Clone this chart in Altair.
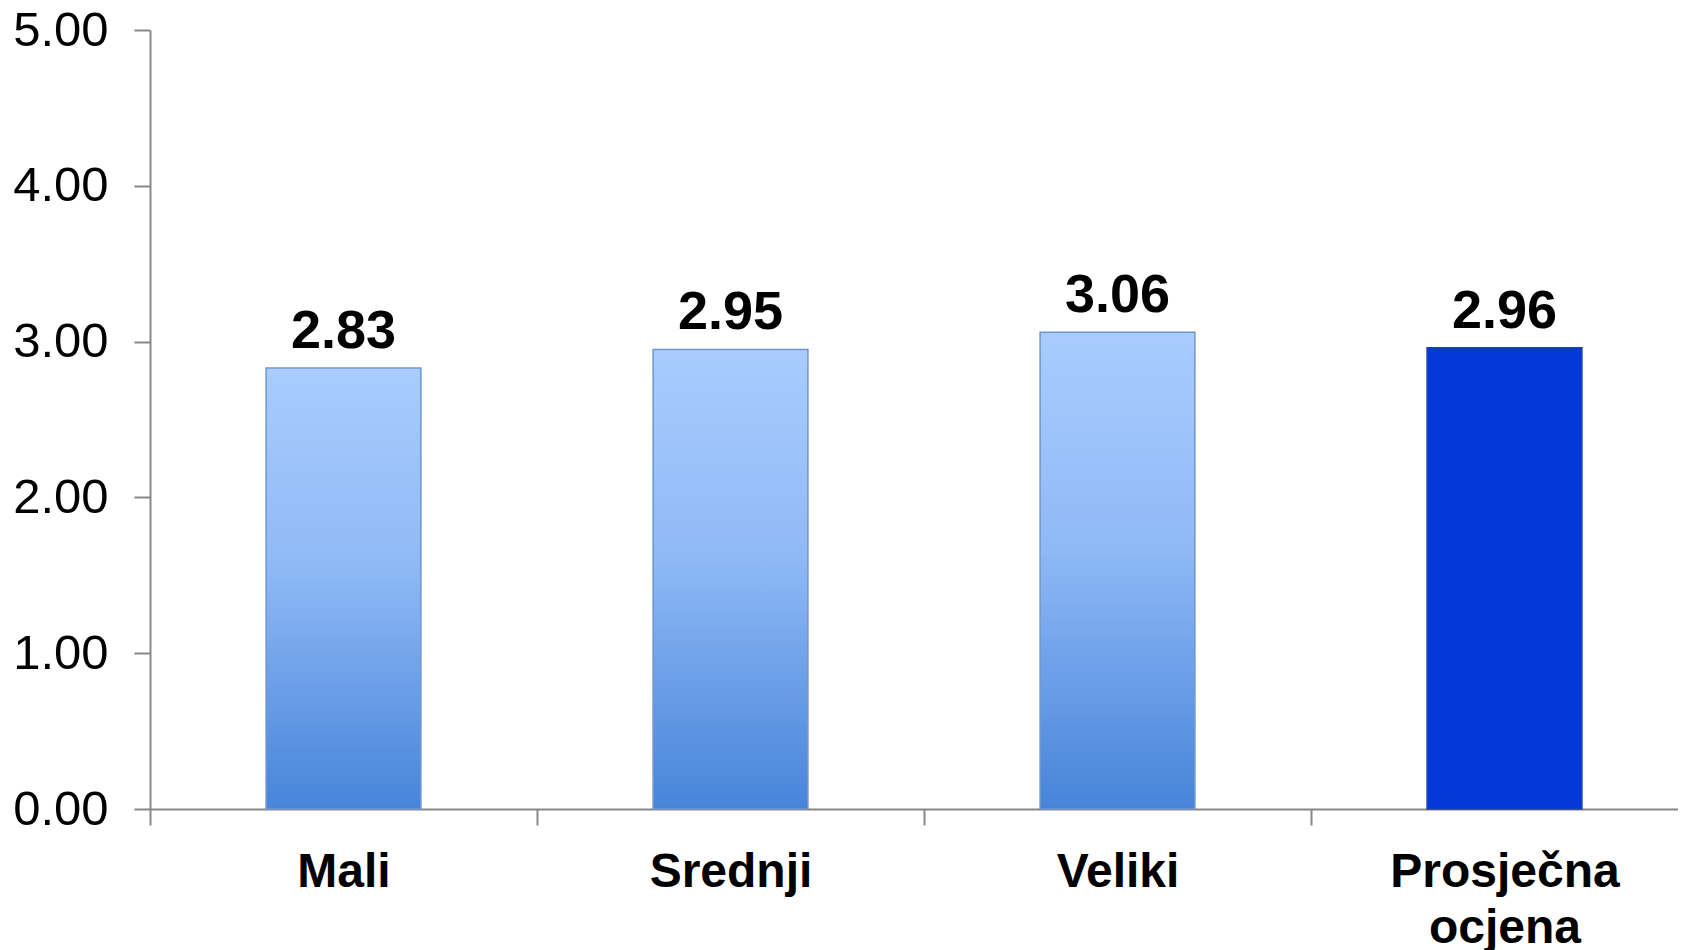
import altair as alt
import pandas as pd

categories = ["Mali", "Srednji", "Veliki", "Prosječna ocjena"]
values = [2.83, 2.95, 3.06, 2.96]
kinds = ["group", "group", "group", "average"]
y_ticks = [0, 1, 2, 3, 4, 5]

df = pd.DataFrame({"cat": categories, "val": values, "kind": kinds})

FONT = "Liberation Sans"

x_enc = alt.X(
    "cat:N",
    sort=categories,
    title=None,
    scale=alt.Scale(paddingInner=0, paddingOuter=0, range=[0, 1548]),
    axis=alt.Axis(
        labelAngle=0,
        labelFont=FONT,
        labelFontSize=48,
        labelFontWeight="bold",
        labelColor="black",
        labelPadding=23,
        labelLineHeight=56,
        labelLimit=1000,
        labelExpr="split(datum.label, ' ')",
        tickBand="extent",
        tickSize=16,
        tickWidth=2,
        tickColor="#878787",
        domainColor="#878787",
        domainWidth=2,
        labelBound=False,
        labelOverlap=False,
    ),
)

y_enc = alt.Y(
    "val:Q",
    title=None,
    scale=alt.Scale(domain=[0, 5], nice=False),
    axis=alt.Axis(
        values=y_ticks,
        format=".2f",
        labelFont=FONT,
        labelFontSize=49,
        labelColor="black",
        labelPadding=26,
        tickSize=16,
        tickWidth=2,
        tickColor="#878787",
        domainColor="#878787",
        domainWidth=2,
        grid=False,
    ),
)

base = alt.Chart(df)

grad = alt.Gradient(
    gradient="linear",
    x1=0, y1=0, x2=0, y2=1,
    stops=[
        alt.GradientStop(offset=0, color="#a9ccfd"),
        alt.GradientStop(offset=0.45, color="#8fb9f6"),
        alt.GradientStop(offset=1, color="#4784d9"),
    ],
)

BAR_W = alt.RelativeBandSize(0.4)

bars_group = base.transform_filter(alt.datum.kind == "group").mark_bar(
    color=grad, stroke="#7196cc", strokeWidth=1.5, width=BAR_W
).encode(x=x_enc, y=y_enc)

bars_avg = base.transform_filter(alt.datum.kind == "average").mark_bar(
    color="#0538d8", stroke="#1a3fae", strokeWidth=1.5, width=BAR_W
).encode(x=x_enc, y=y_enc)

labels = base.mark_text(
    font=FONT,
    fontSize=54,
    fontWeight="bold",
    color="black",
    baseline="alphabetic",
    dy=-20,
).encode(x=x_enc, y=y_enc, text=alt.Text("val:Q", format=".2f"))

chart = (
    alt.layer(bars_group, bars_avg, labels)
    .properties(
        width=1528,
        height=779,
        background="white",
        autosize=alt.AutoSizeParams(type="none"),
        padding={"left": 142, "top": 22, "right": 0, "bottom": 142},
    )
    .configure_view(strokeWidth=0, stroke="transparent")
)

chart.save("out.html", embed_options={"renderer": "svg", "actions": False})
